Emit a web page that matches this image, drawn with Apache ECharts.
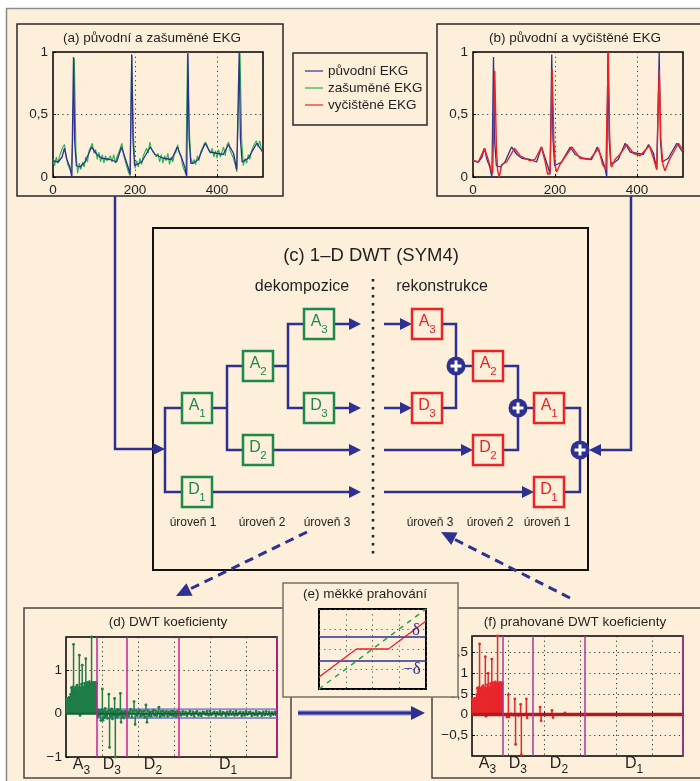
<!DOCTYPE html>
<html>
<head>
<meta charset="utf-8">
<title>EKG – DWT</title>
<script src="https://cdn.jsdelivr.net/npm/echarts@6/dist/echarts.min.js"></script>
<style>
  html, body { margin: 0; padding: 0; background: #fff; }
  #chart { width: 700px; height: 781px; }
</style>
</head>
<body>
<div id="chart"></div>
<script>
// ---- signals (a), (b) ----
const ekgX = [0, 13, 22, 28, 34, 41, 46, 50, 53, 57, 66, 78, 94, 107, 119, 139, 155, 167, 176, 184,
  188, 192, 195, 199, 216, 237, 249, 269, 289, 303, 314, 322, 326, 329, 332, 336, 342, 354, 371, 383,
  399, 415, 428, 440, 448, 454, 457, 461, 476, 497, 511];
const ekgY = [0.13, 0.12, 0.16, 0.23, 0.14, 0.08, 0.00, 0.96, 0.28, 0.09, 0.08, 0.12, 0.24, 0.18, 0.15, 0.14, 0.12, 0.24, 0.15, 0.07,
  0.02, 0.98, 0.30, 0.09, 0.12, 0.24, 0.18, 0.15, 0.14, 0.24, 0.15, 0.07, 0.00, 0.99, 0.30, 0.11, 0.11, 0.14, 0.27, 0.20,
  0.19, 0.18, 0.26, 0.19, 0.06, 1.00, 0.30, 0.12, 0.15, 0.27, 0.20];

// noisy signal, one value every 4 samples
const noisyStep = 4;
const noisyY = [
  0.14, 0.09, 0.16, 0.11, 0.17, 0.18, 0.24, 0.26,
  0.16, 0.10, 0.10, 0.04, 0.30, 0.95, 0.20, 0.03,
  0.11, 0.06, 0.12, 0.08, 0.16, 0.12, 0.21, 0.20,
  0.27, 0.19, 0.22, 0.14, 0.20, 0.12, 0.18, 0.11,
  0.17, 0.13, 0.12, 0.17, 0.12, 0.18, 0.11, 0.16,
  0.17, 0.23, 0.27, 0.18, 0.13, 0.08, 0.04, 0.01,
  0.98, 0.35, 0.07, 0.13, 0.08, 0.15, 0.10, 0.17,
  0.17, 0.23, 0.19, 0.28, 0.22, 0.20, 0.20, 0.16,
  0.19, 0.12, 0.18, 0.11, 0.17, 0.13, 0.19, 0.10,
  0.16, 0.12, 0.18, 0.20, 0.26, 0.19, 0.17, 0.09,
  0.08, 0.02, 1.00, 0.40, 0.15, 0.11, 0.14, 0.10,
  0.17, 0.13, 0.20, 0.21, 0.26, 0.28, 0.25, 0.21,
  0.19, 0.23, 0.16, 0.21, 0.15, 0.22, 0.16, 0.20,
  0.24, 0.17, 0.25, 0.28, 0.21, 0.21, 0.15, 0.10,
  0.04, 0.55, 0.99, 0.30, 0.09, 0.15, 0.11, 0.18,
  0.14, 0.21, 0.22, 0.27, 0.29, 0.24, 0.29, 0.22
];

const cleanX = [0, 13, 28, 37, 44, 48, 53, 57, 60, 64, 70, 82, 101, 115, 139, 151, 167, 176, 182, 188,
  193, 197, 201, 204, 212, 241, 261, 285, 306, 316, 324, 330, 333, 336, 338, 346, 358, 375, 391, 407,
  430, 440, 448, 454, 458, 463, 468, 479, 501, 512];
const cleanY = [0.13, 0.12, 0.23, 0.14, 0.06, 0.03, 0.85, 0.25, 0.05, 0.00, 0.10, 0.12, 0.23, 0.17, 0.13, 0.14, 0.24, 0.12, 0.02, 0.04,
  0.86, 0.30, 0.08, 0.04, 0.10, 0.24, 0.15, 0.14, 0.23, 0.10, 0.06, 1.00, 0.35, 0.10, 0.08, 0.14, 0.18, 0.26, 0.19, 0.17,
  0.25, 0.15, 0.06, 0.86, 0.30, 0.10, 0.05, 0.14, 0.27, 0.21];

// ---- DWT coefficients (d), (f) ----
const bandNames = [['A', '3'], ['D', '3'], ['D', '2'], ['D', '1']];
const bandBounds = [86, 169, 314, 586];
const bandStart = [1, 87, 171, 316];
const bandStep = [2, 2, 3, 4];
const delta = 0.1;

const dA3 = [0.33, 0.35, 0.34, 0.36, 0.38, 0.34, 0.45, 0.60, 0.52, 0.62,
  1.60, 0.58, 0.48, 0.62, 0.55, 0.66, 0.60, 0.52, 1.35, -0.04,
  0.60, 0.68, 1.12, 0.62, 0.55, 0.70, 0.58, 1.27, 0.66, 0.72,
  0.60, 0.70, 0.74, 0.62, 0.70, 1.77, 0.70, 0.72, 0.68, 0.72,
  0.70, 0.72, 0.70];
const dD3 = [0.03, -0.06, 0.08, -0.04, 0.05, -0.16, 0.09, 0.57, -0.15, 0.07,
  -0.09, 0.12, -0.05, 0.04, -0.11, 0.06, 0.45, -0.78, 0.08, -0.06,
  0.11, -0.12, 0.05, -0.04, 0.35, -1.00, 0.06, -0.08, 0.10, -0.05,
  0.08, -0.03, 0.47, -0.20, 0.05, -0.07, 0.03, -0.10, 0.06, 0.04,
  -0.05, 0.03];
const dD2 = [0.04, -0.06, 0.05, 0.10, -0.08, 0.06, 0.28, -0.25, 0.07, -0.05,
  0.04, 0.08, -0.06, 0.05, -0.04, 0.06, -0.08, 0.20, -0.20, 0.07,
  -0.05, 0.04, -0.06, 0.05, 0.08, -0.04, 0.06, -0.05, 0.04, 0.15,
  -0.07, 0.05, -0.04, 0.06, -0.05, 0.03, 0.05, -0.06, 0.04, -0.03,
  0.05, -0.04, 0.06, -0.05, 0.04, -0.06, 0.05, -0.03];
const dD1 = [0.03, -0.04, 0.05, -0.02, 0.04, -0.05, 0.02, 0.06, -0.03, 0.04,
  -0.06, 0.03, 0.05, -0.04, 0.02, -0.05, 0.04, 0.03, -0.02, 0.05,
  -0.04, 0.06, -0.03, 0.02, 0.04, -0.05, 0.03, -0.02, 0.05, -0.04,
  0.03, 0.02, -0.05, 0.04, -0.03, 0.05, -0.02, 0.03, -0.04, 0.06,
  -0.03, 0.02, 0.04, -0.05, 0.03, -0.04, 0.05, -0.02, 0.03, 0.04,
  -0.05, 0.02, -0.03, 0.05, -0.04, 0.03, 0.02, -0.05, 0.04, -0.03,
  0.05, -0.02, 0.04, -0.05, 0.03, -0.02, 0.04, -0.03];

const fA3 = [0.36, 0.37, 0.36, 0.38, 0.40, 0.37, 0.48, 0.64, 0.56, 0.66,
  1.71, 0.62, 0.51, 0.66, 0.59, 0.70, 0.64, 0.56, 1.40, -0.04,
  0.64, 0.72, 1.00, 0.66, 0.59, 0.75, 0.62, 1.34, 0.70, 0.77,
  0.64, 0.75, 0.79, 0.66, 0.75, 1.90, 0.75, 0.77, 0.72, 0.77,
  0.75, 0.77, 0.75];
const fD3 = [0, 0, 0, 0, 0, -0.06, 0, 0.48, -0.06, 0,
  0, 0.02, 0, 0, -0.01, 0, 0.38, -0.72, 0, 0,
  0.01, -0.02, 0, 0, 0.25, -0.97, 0, 0, 0, 0,
  0, 0, 0.38, -0.08, 0, 0, 0, 0, 0, 0,
  0, 0];
const fD2 = [0, 0, 0, 0, 0, 0, 0.18, -0.15, 0, 0,
  0, 0, 0, 0, 0, 0, 0, 0.10, -0.07, 0,
  0, 0, 0, 0, 0, 0, 0, 0, 0, 0.04,
  0, 0, 0, 0, 0, 0, 0, 0, 0, 0,
  0, 0, 0, 0, 0, 0, 0, 0];

// ---- soft thresholding (e) ----
const softDelta = 0.6;
const identX = [-2, 2];
const identY = [-2, 2];
const softX = [-2, -0.6, 0.6, 2];
const softY = [-1.4, 0, 0, 1.4];

// ---- look ----
const FONT = '"Liberation Sans", Arial, Helvetica, sans-serif';
const ink = '#231f20';
const navy = '#2e3192';
const green = '#1b8a4a';
const red = '#ec2227';
const beige = '#fdefd9';

const pairs = (xs, ys) => xs.map((x, i) => [x, ys[i]]);
const stems = (vals, band) => vals.map((v, i) => [bandStart[band] + i * bandStep[band], v]);
const bandCenters = bandBounds.map((b, i) => ((i ? bandBounds[i - 1] : 0) + b) / 2);
const fmt = v => String(+v.toFixed(2)).replace('.', ',').replace('-', '\u2212');

// ---- diagram graphics ----
const G = [];
const add = el => G.push(Object.assign({ silent: true }, el));
function box(x, y, w, h, stroke, lw, z, fill) {
  add({ type: 'rect', shape: { x, y, width: w, height: h }, style: { fill: fill || 'none', stroke, lineWidth: lw }, z: z || 1 });
}
function path(points, color, lw, dash, z) {
  add({ type: 'polyline', shape: { points }, style: { stroke: color, lineWidth: lw, fill: null, lineDash: dash || null, lineJoin: 'miter' }, z: z || 1 });
}
function head(tx, ty, dx, dy, len, half, color) {
  const bx = tx - dx * len, by = ty - dy * len;
  add({ type: 'polygon', shape: { points: [[tx, ty], [bx - dy * half, by + dx * half], [bx + dy * half, by - dx * half]] }, style: { fill: color }, z: 1 });
}
function label(x, y, str, size, color, family) {
  add({ type: 'text', x, y, z: 6, style: { text: str, fill: color || ink, font: size + 'px ' + (family || FONT),
    textAlign: 'center', textVerticalAlign: 'middle', align: 'center', verticalAlign: 'middle' } });
}
function coefBox(name, sub, cx, cy, color) {
  box(cx - 15, cy - 15, 30, 30, color, 2.5, 2);
  label(cx - 3, cy - 2, name, 16, color);
  label(cx + 5.5, cy + 6, sub, 11.5, color);
}
function plus(cx, cy) {
  add({ type: 'circle', shape: { cx, cy, r: 9.5 }, style: { fill: navy }, z: 2 });
  add({ type: 'line', shape: { x1: cx - 5.5, y1: cy, x2: cx + 5.5, y2: cy }, style: { stroke: '#fff', lineWidth: 3 }, z: 3 });
  add({ type: 'line', shape: { x1: cx, y1: cy - 5.5, x2: cx, y2: cy + 5.5 }, style: { stroke: '#fff', lineWidth: 3 }, z: 3 });
}

// page background and frames
add({ type: 'rect', shape: { x: 6.5, y: 8.5, width: 720, height: 800 }, style: { fill: beige, stroke: '#8c8c8c', lineWidth: 1.5 }, z: -10 });
box(17, 24, 266, 172, '#2a2a2a', 1.5);
box(437, 24, 270, 172, '#2a2a2a', 1.5);
box(293, 53, 134, 72, '#2a2a2a', 1.5);
box(153, 228, 435, 342, '#111', 2);
box(24, 608, 267, 170, '#4a4540', 1.5);
box(432, 608, 275, 170, '#4a4540', 1.5);
box(283, 583, 175, 114, '#7a7268', 1.5, 3, beige);

// titles
label(152, 38, '(a) původní a zašuměné EKG', 13.5);
label(575, 38, '(b) původní a vyčištěné EKG', 13.5);
label(371, 256, '(c) 1\u2013D DWT (SYM4)', 18.5);
label(302, 287, 'dekompozice', 16);
label(442, 287, 'rekonstrukce', 16);
label(168, 622, '(d) DWT koeficienty', 13.5);
label(365, 594, '(e) měkké prahování', 13.5);
label(575, 622, '(f) prahované DWT koeficienty', 13.5);
[[193, 'úroveň 1'], [262, 'úroveň 2'], [327, 'úroveň 3'], [430, 'úroveň 3'], [490, 'úroveň 2'], [547, 'úroveň 1']]
  .forEach(([x, t]) => label(x, 523, t, 12));
label(416, 631, 'δ', 17, navy, '"Liberation Serif", serif');
label(412, 670, '\u2212δ', 17, navy, '"Liberation Serif", serif');

// decomposition
const W = 2.5;
path([[115, 196], [115, 449], [154, 449]], navy, W); head(165, 449, 1, 0, 12, 6, navy);
path([[182, 408], [165, 408], [165, 492], [182, 492]], navy, W);
path([[212, 408], [227, 408]], navy, W);
path([[243, 366], [227, 366], [227, 450], [243, 450]], navy, W);
path([[273, 366], [288, 366]], navy, W);
path([[304, 324], [288, 324], [288, 408], [304, 408]], navy, W);
path([[334, 324], [350, 324]], navy, W); head(361, 324, 1, 0, 12, 6, navy);
path([[334, 408], [350, 408]], navy, W); head(361, 408, 1, 0, 12, 6, navy);
path([[273, 450], [350, 450]], navy, W); head(361, 450, 1, 0, 12, 6, navy);
path([[212, 492], [350, 492]], navy, W); head(361, 492, 1, 0, 12, 6, navy);
coefBox('A', '1', 197, 408, green); coefBox('D', '1', 197, 492, green);
coefBox('A', '2', 258, 366, green); coefBox('D', '2', 258, 450, green);
coefBox('A', '3', 319, 324, green); coefBox('D', '3', 319, 408, green);

// separator
path([[373, 279], [373, 555]], ink, 2.5, [2.5, 5.5]);

// reconstruction
path([[384, 324], [402, 324]], navy, W); head(412, 324, 1, 0, 12, 6, navy);
path([[384, 408], [402, 408]], navy, W); head(412, 408, 1, 0, 12, 6, navy);
path([[384, 450], [463, 450]], navy, W); head(473, 450, 1, 0, 12, 6, navy);
path([[384, 492], [524, 492]], navy, W); head(534, 492, 1, 0, 12, 6, navy);
path([[442, 324], [456, 324], [456, 408], [442, 408]], navy, W);
path([[456, 366], [473, 366]], navy, W);
path([[503, 366], [518, 366], [518, 450], [503, 450]], navy, W);
path([[518, 408], [534, 408]], navy, W);
path([[564, 408], [580, 408], [580, 492], [564, 492]], navy, W);
path([[631, 196], [631, 450], [600, 450]], navy, W); head(589, 450, -1, 0, 12, 6, navy);
plus(456, 366); plus(518, 408); plus(580, 450);
coefBox('A', '3', 427, 324, red); coefBox('D', '3', 427, 408, red);
coefBox('A', '2', 488, 366, red); coefBox('D', '2', 488, 450, red);
coefBox('A', '1', 549, 408, red); coefBox('D', '1', 549, 492, red);

// dashed links and the bottom arrow
path([[307, 532], [190, 589]], navy, 3, [9, 6]); head(176, 596, -0.898, 0.439, 15, 7, navy);
path([[570, 598], [454, 539]], navy, 3, [9, 6]); head(441, 532, -0.893, -0.450, 15, 7, navy);
path([[298, 713], [412, 713]], '#a9a9dc', 5.5);
path([[298, 713], [412, 713]], navy, 3); head(425, 713, 1, 0, 14, 7, navy);

// ---- axes ----
function axis(gridIndex, min, max, interval, extra) {
  return Object.assign({
    type: 'value', gridIndex, min, max, interval,
    axisLine: { show: false },
    axisTick: { show: true, inside: true, length: 3, lineStyle: { color: '#000', width: 1 } },
    axisLabel: { color: ink, fontSize: 13.5, fontFamily: FONT, formatter: fmt, margin: 5, showMaxLabel: true },
    splitLine: { show: true, lineStyle: { color: '#333', width: 1, type: [1.2, 3.5] } }
  }, extra || {});
}
function bandAxis(gridIndex) {
  return {
    type: 'value', gridIndex, min: 0, max: bandBounds[3], position: 'bottom',
    axisLine: { show: false }, axisTick: { show: false }, splitLine: { show: false },
    axisLabel: {
      customValues: bandCenters, margin: 0,
      formatter: v => { const b = bandNames[bandCenters.indexOf(v)]; return '{l|' + b[0] + '}{s|' + b[1] + '}'; },
      rich: {
        l: { fontSize: 16, fontFamily: FONT, color: ink, verticalAlign: 'top', lineHeight: 18 },
        s: { fontSize: 12, fontFamily: FONT, color: ink, verticalAlign: 'top', lineHeight: 14, padding: [8, 0, 0, 0] }
      }
    }
  };
}
const hidden = { axisLabel: { show: false }, axisTick: { show: false } };
const eGridLine = { show: true, lineStyle: { color: '#555', width: 1, type: [1.2, 4] } };

const frame = { show: true, borderColor: '#000', borderWidth: 1.5, backgroundColor: 'transparent' };

function stemRender(color, r) {
  return function (params, api) {
    const x = api.value(0), y = api.value(1);
    const p0 = api.coord([x, 0]), p1 = api.coord([x, y]);
    return {
      type: 'group', children: [
        { type: 'line', shape: { x1: p0[0], y1: p0[1], x2: p1[0], y2: p1[1] }, style: { stroke: color, lineWidth: 1.5 } },
        { type: 'circle', shape: { cx: p1[0], cy: p1[1], r }, style: { fill: color } }
      ]
    };
  };
}
const line = (o) => Object.assign({ type: 'line', showSymbol: false, symbol: 'none', silent: true, animation: false }, o);
const bandMarks = (color) => ({
  silent: true, symbol: ['none', 'none'], label: { show: false }, animation: false,
  lineStyle: { color, width: 1.5, type: 'solid' },
  data: bandBounds.map(b => ({ xAxis: b }))
});

const dGreen = '#1e7d48';
const fRed = '#e8262b';
const xLabel = { color: ink, fontSize: 13.5, fontFamily: FONT, formatter: fmt, margin: 6, showMaxLabel: false };
const cLabel = { color: ink, fontSize: 13.5, fontFamily: FONT, formatter: fmt, margin: 4, showMaxLabel: false };

const option = {
  animation: false,
  backgroundColor: '#ffffff',
  textStyle: { fontFamily: FONT },
  legend: {
    left: 305, top: 64, orient: 'vertical', padding: 0, itemGap: 3,
    icon: 'rect', itemWidth: 18, itemHeight: 1.2, selectedMode: false,
    textStyle: { fontSize: 13.5, color: ink, fontFamily: FONT, lineHeight: 14 },
    data: ['původní EKG', 'zašuměné EKG', 'vyčištěné EKG']
  },
  grid: [
    Object.assign({ left: 53, top: 52, width: 210, height: 125 }, frame),
    Object.assign({ left: 473, top: 52, width: 210, height: 125 }, frame),
    Object.assign({ left: 66, top: 637, width: 211, height: 120 }, frame),
    Object.assign({ left: 319, top: 609, width: 107, height: 80 }, frame, { borderWidth: 2, z: 4 }),
    Object.assign({ left: 472, top: 636, width: 211, height: 120 }, frame)
  ],
  xAxis: [
    axis(0, 0, 512, 200, { axisLabel: xLabel }),
    axis(1, 0, 512, 200, { axisLabel: xLabel }),
    axis(2, 0, bandBounds[3], 100, { axisLabel: { show: false } }),
    bandAxis(2),
    axis(3, -2, 2, 1, Object.assign({ z: 4, splitLine: eGridLine }, hidden)),
    axis(4, 0, bandBounds[3], 100, { axisLabel: { show: false } }),
    bandAxis(4)
  ],
  yAxis: [
    axis(0, 0, 1, 0.5),
    axis(1, 0, 1, 0.5),
    axis(2, -1, 1.77, 1, { axisLabel: cLabel }),
    axis(3, -2, 2, 1, Object.assign({ z: 4, splitLine: eGridLine }, hidden)),
    axis(4, -1, 1.9, 0.5, { axisLabel: Object.assign({ showMinLabel: false }, cLabel) })
  ],
  graphic: { elements: G },
  series: [
    // (a)
    line({ name: 'zašuměné EKG', xAxisIndex: 0, yAxisIndex: 0, color: '#25b34b', lineStyle: { width: 1.1 },
      data: noisyY.map((v, i) => [i * noisyStep, v]) }),
    line({ name: 'původní EKG', xAxisIndex: 0, yAxisIndex: 0, color: navy, lineStyle: { width: 1.3 }, data: pairs(ekgX, ekgY) }),
    // (b)
    line({ name: 'původní EKG', xAxisIndex: 1, yAxisIndex: 1, color: navy, lineStyle: { width: 1.3 }, data: pairs(ekgX, ekgY) }),
    line({ name: 'vyčištěné EKG', xAxisIndex: 1, yAxisIndex: 1, color: red, lineStyle: { width: 1.4 }, data: pairs(cleanX, cleanY) }),
    // (d)
    line({ xAxisIndex: 2, yAxisIndex: 2, z: 1, lineStyle: { color: '#8b8bd6', width: 2 }, data: [[bandBounds[0], delta], [bandBounds[3], delta]] }),
    line({ xAxisIndex: 2, yAxisIndex: 2, z: 1, lineStyle: { color: '#8b8bd6', width: 2 }, data: [[bandBounds[0], -delta], [bandBounds[3], -delta]] }),
    { type: 'custom', xAxisIndex: 2, yAxisIndex: 2, z: 2, silent: true, animation: false, renderItem: stemRender(dGreen, 1.4),
      data: [].concat(stems(dA3, 0), stems(dD3, 1), stems(dD2, 2), stems(dD1, 3)) },
    line({ xAxisIndex: 2, yAxisIndex: 2, z: 3, lineStyle: { color: '#155f32', width: 2 }, data: [[0, 0], [bandBounds[3], 0]],
      markLine: bandMarks('#c81f97') }),
    // (e)
    line({ xAxisIndex: 4, yAxisIndex: 3, z: 5, lineStyle: { color: navy, width: 1.5 }, data: [[identX[0], softDelta], [identX[1], softDelta]] }),
    line({ xAxisIndex: 4, yAxisIndex: 3, z: 5, lineStyle: { color: navy, width: 1.5 }, data: [[identX[0], -softDelta], [identX[1], -softDelta]] }),
    line({ xAxisIndex: 4, yAxisIndex: 3, z: 5, lineStyle: { color: '#22a84a', width: 1.5, type: [5, 5] }, data: pairs(identX, identY) }),
    line({ xAxisIndex: 4, yAxisIndex: 3, z: 5, lineStyle: { color: red, width: 1.3 }, data: pairs(softX, softY) }),
    // (f)
    { type: 'custom', xAxisIndex: 5, yAxisIndex: 4, z: 2, silent: true, animation: false, renderItem: stemRender(fRed, 1.4),
      data: [].concat(stems(fA3, 0), stems(fD3, 1), stems(fD2, 2)) },
    line({ xAxisIndex: 5, yAxisIndex: 4, z: 3, lineStyle: { color: '#b01a20', width: 3.5 }, data: [[0, 0], [bandBounds[3], 0]],
      markLine: bandMarks('#a8379c') })
  ]
};

const chart = echarts.init(document.getElementById('chart'));
chart.setOption(option);
window.addEventListener('resize', () => chart.resize());
</script>
</body>
</html>
